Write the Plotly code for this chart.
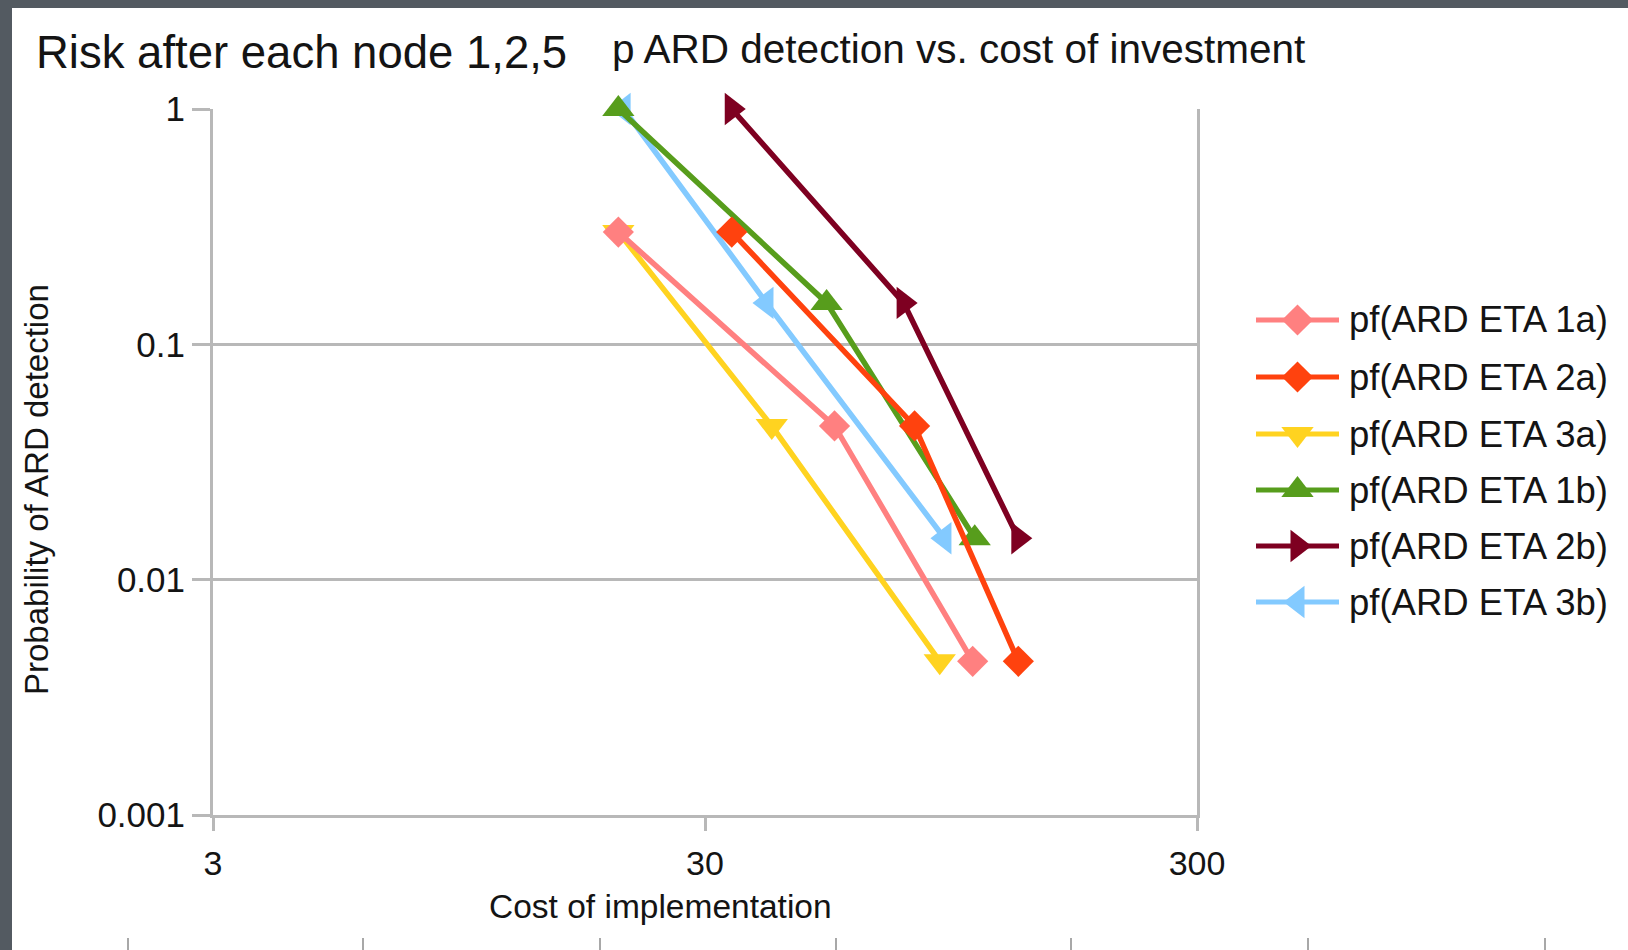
import plotly.graph_objects as go

# ---- data: cost of implementation vs probability of ARD detection ----
series_names = ["pf(ARD ETA 1a)", "pf(ARD ETA 2a)", "pf(ARD ETA 3a)",
                "pf(ARD ETA 1b)", "pf(ARD ETA 2b)", "pf(ARD ETA 3b)"]

cost_1a = [20, 55, 105]
prob_1a = [0.3, 0.045, 0.0045]

cost_2a = [34, 80, 130]
prob_2a = [0.3, 0.045, 0.0045]

cost_3a = [20, 41, 90]
prob_3a = [0.3, 0.045, 0.0045]

cost_1b = [20, 53, 106]
prob_1b = [1, 0.15, 0.015]

cost_2b = [34, 76, 130]
prob_2b = [1, 0.15, 0.015]

cost_3b = [20.5, 40, 92]
prob_3b = [1, 0.15, 0.015]

x_ticks = [3, 30, 300]
x_tick_text = ["3", "30", "300"]
y_ticks = [0.001, 0.01, 0.1, 1]
y_tick_text = ["0.001", "0.01", "0.1", "1"]

# ---- styling ----
W, H = 1628, 950
FONT = "Liberation Sans, Arial, sans-serif"
TXT = "#141414"
GRID = "#b8b8b8"

colors = ["#ff8080", "#ff420e", "#ffd320", "#579d1c", "#7e0021", "#83caff"]
symbols = ["diamond", "diamond", "triangle-down", "triangle-up",
           "triangle-right", "triangle-left"]
msizes = [24, 24, 28, 28, 28, 28]

data = [(cost_1a, prob_1a), (cost_2a, prob_2a), (cost_3a, prob_3a),
        (cost_1b, prob_1b), (cost_2b, prob_2b), (cost_3b, prob_3b)]

# plot-area placement in pixels
px_left, px_right = 213, 1197
px_top, px_bottom = 109, 815


def px(x):
    return x / W


def py(y):
    return 1 - y / H


fig = go.Figure()

# later series are drawn first so that 1a ends up on top
for i in reversed(range(len(data))):
    xs, ys = data[i]
    fig.add_trace(go.Scatter(
        x=xs, y=ys, name=series_names[i], mode="lines+markers",
        line=dict(color=colors[i], width=5.5),
        marker=dict(symbol=symbols[i], size=msizes[i], color=colors[i],
                    line=dict(width=0)),
        cliponaxis=False, showlegend=False,
    ))

# legend keys on a full-page pixel-space subplot
leg_y = [320, 377, 434, 490, 546, 602]
leg_x0, leg_x1 = 1256, 1339
for i in range(len(series_names)):
    fig.add_trace(go.Scatter(
        x=[leg_x0, leg_x1], y=[leg_y[i]] * 2,
        mode="lines", xaxis="x2", yaxis="y2",
        line=dict(color=colors[i], width=5),
        showlegend=False, hoverinfo="skip", cliponaxis=False,
    ))
    fig.add_trace(go.Scatter(
        x=[(leg_x0 + leg_x1) / 2], y=[leg_y[i]],
        mode="markers", xaxis="x2", yaxis="y2",
        marker=dict(symbol=symbols[i], size=msizes[i], color=colors[i],
                    opacity=1, line=dict(width=0)),
        showlegend=False, hoverinfo="skip", cliponaxis=False,
    ))

annotations = []
for i, name in enumerate(series_names):
    annotations.append(dict(
        x=px(1347), y=py(leg_y[i]), xref="paper", yref="paper", text=name,
        showarrow=False, xanchor="left", yanchor="middle",
        font=dict(family=FONT, size=36.5, color=TXT)))

# title (two parts)
annotations.append(dict(
    x=px(34), y=py(52), xref="paper", yref="paper",
    text="Risk after each node 1,2,5",
    showarrow=False, xanchor="left", yanchor="middle",
    font=dict(family=FONT, size=45.5, color=TXT)))
annotations.append(dict(
    x=px(610), y=py(49), xref="paper", yref="paper",
    text="p ARD detection vs. cost of investment",
    showarrow=False, xanchor="left", yanchor="middle",
    font=dict(family=FONT, size=40.5, color=TXT)))

# axis titles
annotations.append(dict(
    x=px(660), y=py(906), xref="paper", yref="paper",
    text="Cost of implementation",
    showarrow=False, xanchor="center", yanchor="middle",
    font=dict(family=FONT, size=33.5, color=TXT)))
annotations.append(dict(
    x=px(36), y=py(490), xref="paper", yref="paper",
    text="Probability of ARD detection",
    showarrow=False, xanchor="center", yanchor="middle", textangle=-90,
    font=dict(family=FONT, size=33, color=TXT)))

shapes = []
# dark frame strips along the top and left edges
shapes.append(dict(type="rect", xref="paper", yref="paper",
                   x0=0, x1=1, y0=py(8), y1=1,
                   fillcolor="#535a61", line=dict(width=0), layer="above"))
shapes.append(dict(type="rect", xref="paper", yref="paper",
                   x0=0, x1=px(12), y0=0, y1=1,
                   fillcolor="#535a61", line=dict(width=0), layer="above"))
# tick marks of the axis below, along the bottom edge
for bx in [128, 363, 600, 836, 1071, 1308, 1545]:
    shapes.append(dict(type="line", xref="paper", yref="paper",
                       x0=px(bx), x1=px(bx), y0=py(938), y1=py(950),
                       line=dict(color="#a8a8a8", width=2)))

fig.update_layout(
    width=W, height=H,
    margin=dict(l=0, r=0, t=0, b=0, pad=0, autoexpand=False),
    paper_bgcolor="white", plot_bgcolor="rgba(0,0,0,0)",
    font=dict(family=FONT, color=TXT),
    xaxis=dict(
        type="log", range=[0.47712, 2.47712],
        domain=[px(px_left), px(px_right)],
        tickvals=x_ticks, ticktext=x_tick_text,
        showgrid=False, zeroline=False, automargin=False,
        showline=True, linecolor=GRID, linewidth=3,
        ticks="outside", ticklen=13, tickwidth=3, tickcolor=GRID,
        ticklabelstandoff=3,
        tickfont=dict(family=FONT, size=34, color=TXT),
    ),
    yaxis=dict(
        type="log", range=[-3, 0],
        domain=[py(px_bottom), py(px_top)],
        tickvals=y_ticks, ticktext=y_tick_text,
        showgrid=True, gridcolor=GRID, gridwidth=3, zeroline=False,
        automargin=False,
        showline=True, linecolor=GRID, linewidth=3, mirror=True,
        ticks="outside", ticklen=18, tickwidth=3, tickcolor=GRID,
        ticklabelstandoff=0,
        tickfont=dict(family=FONT, size=35, color=TXT),
    ),
    xaxis2=dict(domain=[0, 1], range=[0, W], visible=False,
                anchor="y2", fixedrange=True, automargin=False),
    yaxis2=dict(domain=[0, 1], range=[H, 0], visible=False,
                anchor="x2", fixedrange=True, automargin=False),
    annotations=annotations,
    shapes=shapes,
    showlegend=False,
)

fig.write_html(
    "out.html",
    post_script="document.body.style.margin='0';"
                "document.body.style.overflow='hidden';",
)
